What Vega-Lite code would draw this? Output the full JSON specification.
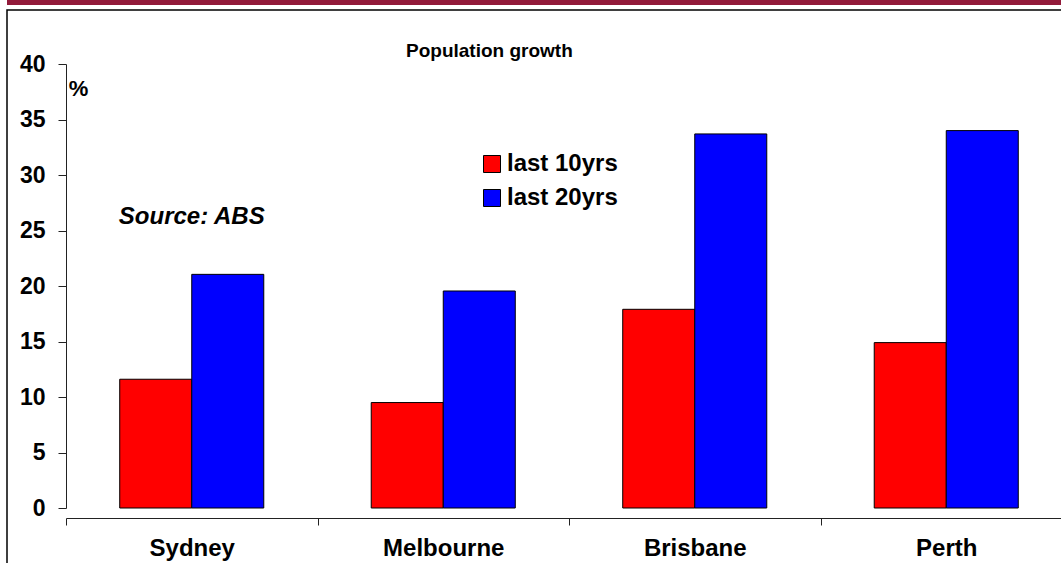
{
  "$schema": "https://vega.github.io/schema/vega-lite/v6.json",
  "width": 1064,
  "height": 563,
  "autosize": {"type": "none"},
  "padding": {"left": 7, "top": 10, "right": -10, "bottom": -10},
  "background": "white",
  "config": {
    "font": "Liberation Sans",
    "view": {"stroke": "black", "strokeWidth": 1.5}
  },
  "title": {
    "text": "Population growth",
    "anchor": "start",
    "frame": "group",
    "align": "left",
    "dx": 399,
    "offset": -61,
    "fontSize": 19,
    "fontWeight": "bold",
    "color": "black",
    "font": "Liberation Sans"
  },
  "layer": [
    {
      "data": {
        "values": [
          {"city": "Sydney", "series": "last 10yrs", "value": 11.6},
          {"city": "Sydney", "series": "last 20yrs", "value": 21.05},
          {"city": "Melbourne", "series": "last 10yrs", "value": 9.5},
          {"city": "Melbourne", "series": "last 20yrs", "value": 19.55},
          {"city": "Brisbane", "series": "last 10yrs", "value": 17.9},
          {"city": "Brisbane", "series": "last 20yrs", "value": 33.7},
          {"city": "Perth", "series": "last 10yrs", "value": 14.9},
          {"city": "Perth", "series": "last 20yrs", "value": 34.0}
        ]
      },
      "mark": {"type": "bar", "stroke": "black", "strokeWidth": 1},
      "encoding": {
        "x": {
          "field": "city",
          "type": "nominal",
          "sort": ["Sydney", "Melbourne", "Brisbane", "Perth"],
          "scale": {"range": [59, 1065], "paddingInner": 0, "paddingOuter": 0},
          "axis": {
            "title": null,
            "orient": "bottom",
            "offset": -55,
            "domain": true,
            "domainColor": "#222",
            "domainWidth": 1,
            "tickBand": "extent",
            "ticks": true,
            "tickSize": 7,
            "tickColor": "#222",
            "labelAngle": 0,
            "labelFontSize": 24,
            "labelFontWeight": "bold",
            "labelColor": "black",
            "labelPadding": 11,
            "grid": false
          }
        },
        "xOffset": {
          "field": "series",
          "type": "nominal",
          "scale": {"paddingInner": 0, "paddingOuter": 0.746}
        },
        "y": {
          "field": "value",
          "type": "quantitative",
          "scale": {"domain": [0, 40], "range": [498, 54], "nice": false},
          "axis": {
            "orient": "left",
            "offset": -59,
            "values": [0, 5, 10, 15, 20, 25, 30, 35, 40],
            "grid": false,
            "domain": true,
            "domainColor": "#222",
            "domainWidth": 1,
            "tickSize": 8,
            "tickColor": "#222",
            "labelFontSize": 23,
            "labelFontWeight": "bold",
            "labelColor": "black",
            "labelPadding": 13,
            "title": "%",
            "titleAngle": 0,
            "titleX": 12,
            "titleY": 78,
            "titleAlign": "center",
            "titleBaseline": "middle",
            "titleFontSize": 22,
            "titleFontWeight": "bold",
            "titleColor": "black"
          }
        },
        "color": {
          "field": "series",
          "type": "nominal",
          "scale": {"domain": ["last 10yrs", "last 20yrs"], "range": ["#FF0000", "#0000FF"]},
          "legend": {
            "title": null,
            "orient": "none",
            "legendX": 473,
            "legendY": 142,
            "symbolType": "square",
            "symbolSize": 289,
            "symbolStrokeColor": "black",
            "symbolStrokeWidth": 1,
            "labelFontSize": 24,
            "labelFontWeight": "bold",
            "labelColor": "black",
            "labelOffset": 3,
            "rowPadding": 10
          }
        }
      }
    },
    {
      "data": {"values": [{"label": "Source: ABS"}]},
      "mark": {"type": "text", "fontSize": 24, "fontWeight": "bold", "fontStyle": "italic", "color": "black", "align": "center", "baseline": "middle"},
      "encoding": {
        "x": {"datum": "Sydney", "type": "nominal"},
        "y": {"datum": 26.2, "type": "quantitative"},
        "text": {"field": "label"}
      }
    },
    {
      "data": {"values": [{"band": "top"}]},
      "mark": {"type": "rect", "color": "#921A3A"},
      "encoding": {
        "y": {"datum": 45.77, "type": "quantitative"},
        "y2": {"datum": 45.32}
      }
    }
  ]
}
